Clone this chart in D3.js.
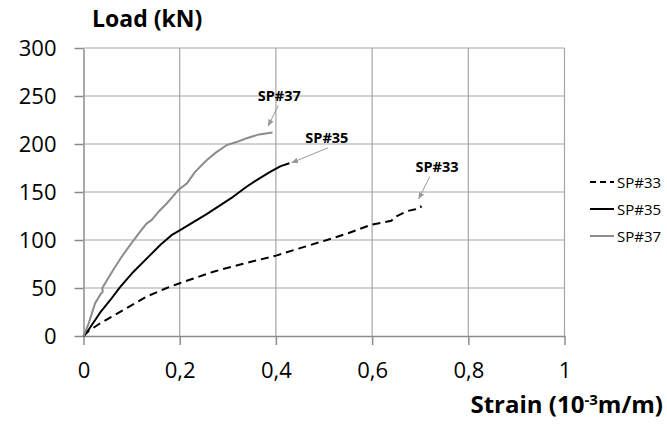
<!DOCTYPE html>
<html>
<head>
<meta charset="utf-8">
<script src="https://cdn.jsdelivr.net/npm/d3@7"></script>
<style>
  body { margin: 0; background: #fff; }
  svg { display: block; font-family: "Open Sans", Lato, sans-serif; }
</style>
</head>
<body>
<svg id="chart" width="667" height="424"></svg>
<script>
// data: [strain (10^-3 m/m), load (kN)]
var sp33 = [[0,0],[0.01,5],[0.034,13],[0.083,27],[0.131,41],[0.173,50],[0.2,55],[0.27,67],[0.33,75],[0.402,84],[0.447,91],[0.506,100],[0.55,107],[0.599,116],[0.63,119],[0.64,120],[0.648,124],[0.66,127],[0.672,130],[0.69,132],[0.7,135],[0.703,134]];
var sp35 = [[0,0],[0.01,6],[0.034,24],[0.055,37],[0.076,51],[0.104,67],[0.138,84],[0.16,95],[0.183,105],[0.2,110],[0.256,127],[0.311,145],[0.339,155.5],[0.365,164],[0.388,171],[0.41,177],[0.428,180]];
var sp37 = [[0,0],[0.01,12],[0.024,34],[0.036,44],[0.04,46],[0.039,50],[0.045,55],[0.062,69],[0.08,83],[0.097,95],[0.115,107],[0.131,117],[0.142,121],[0.157,130],[0.173,138],[0.185,145],[0.197,152],[0.215,159],[0.232,171],[0.256,183],[0.275,191],[0.298,199],[0.318,202],[0.339,206],[0.365,210],[0.393,212]];
var xTicks = [0, 0.2, 0.4, 0.6, 0.8, 1];
var yTicks = [0, 50, 100, 150, 200, 250, 300];
var seriesNames = ["SP#33", "SP#35", "SP#37"];
// callouts: label position and arrow from/to, in data units
var notes = [
  {name: "SP#37", lx: 0.407, ly: 245, ax: 0.405, ay: 240, bx: 0.384, by: 219},
  {name: "SP#35", lx: 0.506, ly: 201, ax: 0.508, ay: 196, bx: 0.433, by: 180.5},
  {name: "SP#33", lx: 0.735, ly: 171, ax: 0.72, ay: 166, bx: 0.697, by: 143}
];

var svg = d3.select("#chart");
var x = d3.scaleLinear().domain([0, 1]).range([83.5, 564.5]);
var y = d3.scaleLinear().domain([0, 300]).range([336, 48]);
var fmt = function(d) { return String(d).replace(".", ","); };

var grid = svg.append("g");
grid.selectAll(".gx").data(xTicks.slice(1)).enter().append("line")
  .attr("x1", x).attr("x2", x).attr("y1", y(0)).attr("y2", y(300))
  .attr("stroke", "#a6a6a6").attr("stroke-width", 1.2);
grid.selectAll(".gy").data(yTicks.slice(1)).enter().append("line")
  .attr("x1", x(0)).attr("x2", x(1)).attr("y1", y).attr("y2", y)
  .attr("stroke", "#a6a6a6").attr("stroke-width", 1.2);

var xa = svg.append("g").attr("transform", "translate(0," + y(0) + ")")
  .call(d3.axisBottom(x).tickValues(xTicks).tickFormat(fmt).tickSize(9).tickSizeOuter(0).tickPadding(17));
var ya = svg.append("g").attr("transform", "translate(" + x(0) + ",0)")
  .call(d3.axisLeft(y).tickValues(yTicks).tickSize(9).tickSizeOuter(0).tickPadding(18));
[xa, ya].forEach(function(a) {
  a.select(".domain").attr("stroke", "#8c8c8c").attr("stroke-width", 1.5);
  a.selectAll(".tick line").attr("stroke", "#8c8c8c").attr("stroke-width", 1.5);
  a.selectAll(".tick text").attr("fill", "#000").style("font-size", "22px").style("font-family", "'Open Sans', sans-serif");
});
ya.selectAll(".tick text").attr("x", -27);

var line = d3.line().x(function(d) { return x(d[0]); }).y(function(d) { return y(d[1]); });
var styles = [
  {data: sp33, color: "#000", width: 2, dash: "8,5"},
  {data: sp35, color: "#000", width: 2, dash: null},
  {data: sp37, color: "#8c8c8c", width: 2, dash: null}
];
svg.selectAll(".series").data(styles).enter().append("path")
  .attr("d", function(s) { return line(s.data); })
  .attr("fill", "none").attr("stroke", function(s) { return s.color; })
  .attr("stroke-width", function(s) { return s.width; })
  .attr("stroke-dasharray", function(s) { return s.dash; })
  .attr("stroke-linejoin", "round");

// callouts
svg.append("defs").append("marker").attr("id", "ah")
  .attr("viewBox", "0 0 10 10").attr("refX", 9).attr("refY", 5)
  .attr("markerWidth", 7).attr("markerHeight", 7).attr("orient", "auto")
  .append("path").attr("d", "M0,1L10,5L0,9Z").attr("fill", "#999");
var n = svg.selectAll(".note").data(notes).enter().append("g");
n.append("text").attr("x", function(d) { return x(d.lx); }).attr("y", function(d) { return y(d.ly); })
  .attr("text-anchor", "middle").attr("font-weight", "bold").attr("font-size", 14.5)
  .text(function(d) { return d.name; });
n.append("line")
  .attr("x1", function(d) { return x(d.ax); }).attr("y1", function(d) { return y(d.ay); })
  .attr("x2", function(d) { return x(d.bx); }).attr("y2", function(d) { return y(d.by); })
  .attr("stroke", "#999").attr("stroke-width", 1).attr("marker-end", "url(#ah)");

// legend
var lg = svg.selectAll(".lg").data(styles).enter().append("g")
  .attr("transform", function(d, i) { return "translate(590," + (182 + i * 27) + ")"; });
lg.append("line").attr("x1", 0).attr("x2", 24).attr("y1", 0).attr("y2", 0)
  .attr("stroke", function(s) { return s.color; }).attr("stroke-width", 2)
  .attr("stroke-dasharray", function(s) { return s.dash ? "6,4" : null; });
lg.append("text").attr("x", 27).attr("y", 5.5).attr("font-size", 15)
  .text(function(d, i) { return seriesNames[i]; });

// axis titles
svg.append("text").attr("x", 92).attr("y", 27).attr("font-weight", "bold").attr("font-size", 23)
  .text("Load (kN)");
var st = svg.append("text").attr("x", 663).attr("y", 413).attr("text-anchor", "end")
  .attr("font-weight", "bold").attr("font-size", 24);
st.append("tspan").text("Strain (10");
st.append("tspan").attr("font-size", 15).attr("dy", -8).text("-3");
st.append("tspan").attr("dy", 8).text("m/m)");
</script>
</body>
</html>
